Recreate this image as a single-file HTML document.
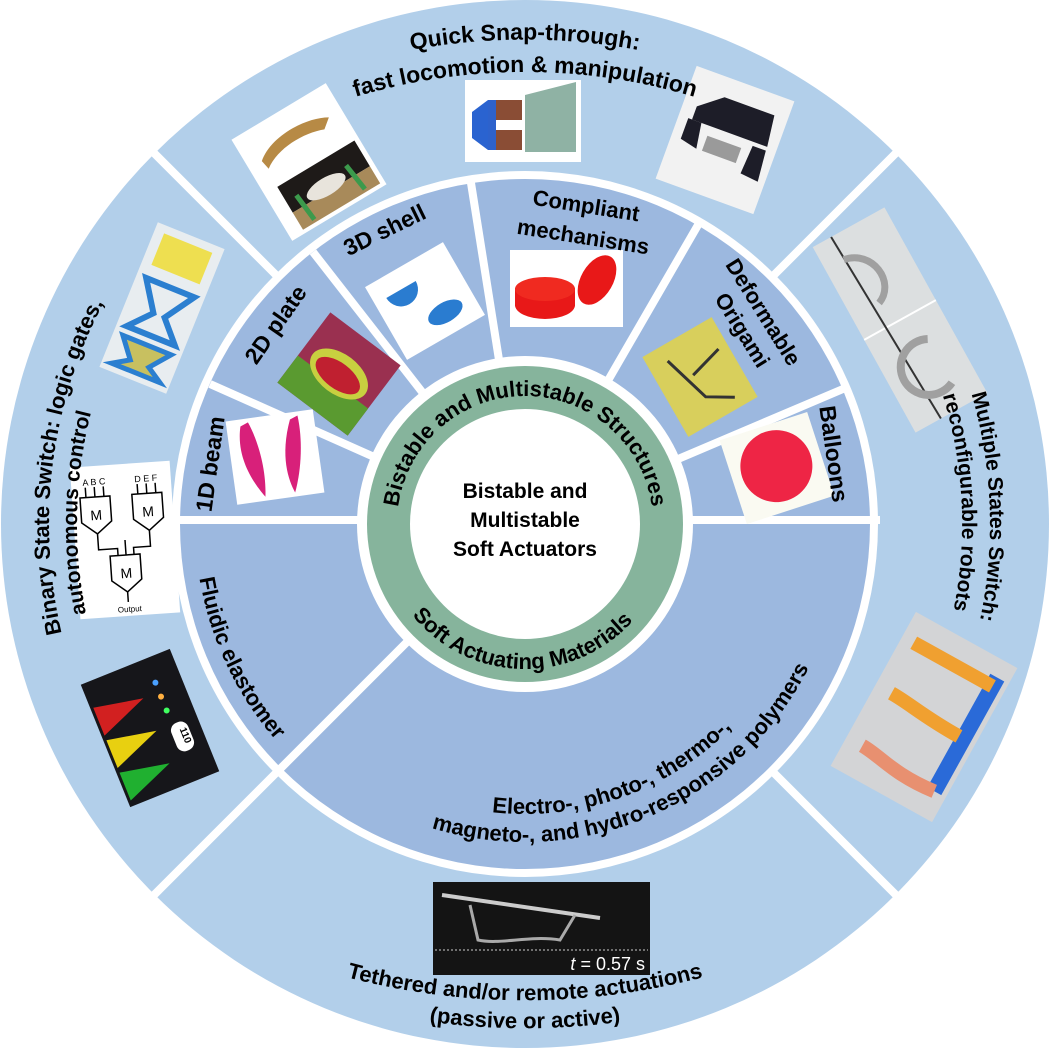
<!DOCTYPE html>
<html><head><meta charset="utf-8"><style>
html,body{margin:0;padding:0;background:#fff;}
svg{display:block;}
text{font-family:"Liberation Sans",Arial,sans-serif;font-weight:bold;fill:#000;}
</style></head><body>
<svg width="1049" height="1049" viewBox="0 0 1049 1049" xmlns="http://www.w3.org/2000/svg">
<defs>
<path id="top1" d="M225,117 A620,620 0 0 1 825,117"/>
<path id="top2" d="M225,154 A590,590 0 0 1 825,154"/>
<path id="cw476" d="M525,1000 A476,476 0 1 1 525,48 A476,476 0 1 1 525,1000"/>
<path id="cw448" d="M525,972 A448,448 0 1 1 525,76 A448,448 0 1 1 525,972"/>
<path id="cw465" d="M525,989 A465,465 0 1 1 525,59 A465,465 0 1 1 525,989"/>
<path id="cw437" d="M525,961 A437,437 0 1 1 525,87 A437,437 0 1 1 525,961"/>
<path id="cw128" d="M525,652 A128,128 0 1 1 525,396 A128,128 0 1 1 525,652"/>
<path id="bot1" d="M250,944 A700,700 0 0 0 800,944"/>
<path id="bot2" d="M250,972 A700,700 0 0 0 800,972"/>
<path id="ccw330" d="M525,194 A330,330 0 1 0 525,854 A330,330 0 1 0 525,194"/>
<path id="ccw290" d="M525,234 A290,290 0 1 0 525,814 A290,290 0 1 0 525,234"/>
<path id="ccw318" d="M525,206 A318,318 0 1 0 525,842 A318,318 0 1 0 525,206"/>
<path id="ccw145" d="M525,379 A145,145 0 1 0 525,669 A145,145 0 1 0 525,379"/>
</defs>

<circle cx="525" cy="524" r="524" fill="#b2cfea"/>
<g stroke="#fff" stroke-width="8">
<line x1="525" y1="524" x2="150" y2="149"/>
<line x1="525" y1="524" x2="900" y2="149"/>
<line x1="525" y1="524" x2="900" y2="899"/>
<line x1="525" y1="524" x2="150" y2="899"/>
</g>
<circle cx="525" cy="524" r="353" fill="#fff"/>
<circle cx="525" cy="524" r="345" fill="#9cb8df"/>
<g stroke="#fff" stroke-width="8">
<line x1="525" y1="524" x2="280" y2="769"/>
<line x1="170" y1="520" x2="880" y2="520"/>
<line x1="525" y1="524" x2="843" y2="389"/>
<line x1="525" y1="524" x2="698" y2="225"/>
<line x1="525" y1="524" x2="471" y2="183"/>
<line x1="525" y1="524" x2="313" y2="252"/>
<line x1="525" y1="524" x2="210" y2="384"/>
</g>
<circle cx="525" cy="524" r="168" fill="#fff"/>
<circle cx="525" cy="524" r="158" fill="#86b49c"/>
<circle cx="525" cy="524" r="115" fill="#fff"/>

<text x="525" y="498" font-size="21" text-anchor="middle">Bistable and</text>
<text x="525" y="527" font-size="21" text-anchor="middle">Multistable</text>
<text x="525" y="556" font-size="21" text-anchor="middle">Soft Actuators</text>

<text font-size="22"><textPath href="#cw128" startOffset="50%" text-anchor="middle">Bistable and Multistable Structures</textPath></text>
<text font-size="22"><textPath href="#ccw145" startOffset="49.6%" text-anchor="middle">Soft Actuating Materials</textPath></text>

<g transform="translate(309,162) rotate(-31)">
<rect x="-55" y="-59" width="110" height="118" fill="#fff"/>
<path d="M-40,-25 C-20,-42 20,-40 40,-28 L30,-20 C10,-28 -20,-28 -38,-15 Z" fill="#b78a45"/>
<rect x="-40" y="5" width="90" height="30" fill="#1e1a18"/>
<rect x="-40" y="35" width="90" height="20" fill="#a88a5a"/>
<path d="M-28,22 L-25,52 M30,22 L34,52" stroke="#3c9a4c" stroke-width="5"/>
<ellipse cx="2" cy="30" rx="22" ry="9" fill="#e8e4dc"/>
</g>
<g>
<rect x="465" y="80" width="116" height="82" fill="#fff"/>
<path d="M525,95 L576,82 L576,152 L525,152 Z" fill="#8fb2a4"/>
<path d="M472,112 L488,100 L488,150 L472,138 Z" fill="#2a63d0"/>
<rect x="488" y="100" width="8" height="50" fill="#2d62cc"/>
<rect x="496" y="100" width="26" height="20" fill="#8a4d35"/>
<rect x="496" y="130" width="26" height="20" fill="#8a4d35"/>
</g>
<g transform="translate(725,140) rotate(20)">
<rect x="-52" y="-60" width="104" height="120" fill="#f2f2f2"/>
<path d="M-38,-22 L-15,-40 L38,-40 L42,-8 L-38,-8 Z" fill="#1d1d28"/>
<path d="M-42,-8 L-28,-8 L-24,18 L-42,14 Z" fill="#1d1d28"/>
<path d="M28,-4 L42,-4 L45,28 L26,26 Z" fill="#1d1d28"/>
<rect x="-18" y="2" width="36" height="16" fill="#9a9a9a"/>
</g>
<g transform="translate(162,308) rotate(22)">
<rect x="-36" y="-78" width="72" height="156" fill="#e8edf0"/>
<rect x="-26" y="-70" width="52" height="34" fill="#eedf50"/>
<path d="M-26,-22 L26,-22 L6,8 L26,30 L-26,30 L-6,8 Z" fill="none" stroke="#2b7fd0" stroke-width="6"/>
<path d="M-26,40 L26,40 L10,60 L26,70 L-26,70 L-10,60 Z" fill="#c8c060" stroke="#2b7fd0" stroke-width="5"/>
</g>
<g transform="translate(125,540) rotate(-4)">
<rect x="-50" y="-76" width="100" height="152" fill="#fff"/>
<g fill="none" stroke="#000" stroke-width="1.5">
<path d="M-42,-45 L-12,-45 L-12,-20 L-27,-8 L-42,-20 Z"/>
<path d="M10,-45 L40,-45 L40,-20 L25,-8 L10,-20 Z"/>
<path d="M-16,15 L14,15 L14,40 L-1,52 L-16,40 Z"/>
<path d="M-27,-8 L-27,8 L-8,8 L-8,15 M25,-8 L25,8 L8,8 L8,15 M-1,52 L-1,62 M0,0 L0,15"/>
<path d="M-36,-45 L-36,-55 M-27,-45 L-27,-55 M-18,-45 L-18,-55 M16,-45 L16,-55 M25,-45 L25,-55 M34,-45 L34,-55"/>
</g>
<text x="-27" y="-22" font-size="14" text-anchor="middle" style="font-weight:normal">M</text>
<text x="25" y="-22" font-size="14" text-anchor="middle" style="font-weight:normal">M</text>
<text x="-1" y="38" font-size="14" text-anchor="middle" style="font-weight:normal">M</text>
<text x="-27" y="-57" font-size="9" text-anchor="middle" style="font-weight:normal">A B C</text>
<text x="25" y="-57" font-size="9" text-anchor="middle" style="font-weight:normal">D E F</text>
<text x="0" y="72" font-size="8" text-anchor="middle" style="font-weight:normal">Output</text>
</g>
<g transform="translate(150,728) rotate(-22)">
<rect x="-48" y="-66" width="96" height="132" fill="#16161a"/>
<path d="M-45,-40 L5,-30 L-45,-10 Z" fill="#d22020"/>
<path d="M-45,-5 L5,5 L-45,25 Z" fill="#e8d010"/>
<path d="M-45,30 L5,40 L-45,60 Z" fill="#20b030"/>
<circle cx="22" cy="-40" r="3" fill="#4aa0ff"/>
<circle cx="22" cy="-25" r="3" fill="#ffb040"/>
<circle cx="22" cy="-10" r="3" fill="#40ff60"/>
<rect x="18" y="5" width="18" height="30" rx="8" fill="#fff"/>
<text transform="translate(27,20) rotate(90)" font-size="10" text-anchor="middle">110</text>
</g>
<g transform="translate(900,320) rotate(-29)">
<rect x="-41" y="-106" width="82" height="212" fill="#dcdfe0"/>
<line x1="-41" y1="0" x2="41" y2="0" stroke="#fff" stroke-width="2"/>
<line x1="-20" y1="-106" x2="-12" y2="106" stroke="#333" stroke-width="2"/>
<path d="M-20,-80 C10,-75 15,-35 -10,-25" fill="none" stroke="#a0a0a0" stroke-width="7"/>
<path d="M15,30 A28,28 0 1 0 15,80" fill="none" stroke="#a0a0a0" stroke-width="8"/>
</g>
<g transform="translate(924,717) rotate(29)">
<rect x="-58" y="-88" width="116" height="176" fill="#d3d4d6"/>
<path d="M45,-70 L45,60" stroke="#2a6ad8" stroke-width="16"/>
<path d="M45,-60 C0,-60 -20,-60 -45,-60" stroke="#f0a030" stroke-width="14" fill="none"/>
<path d="M40,0 C0,0 -20,-5 -40,-5" stroke="#f0a030" stroke-width="14" fill="none"/>
<path d="M45,60 C0,65 -20,55 -40,55" stroke="#e89070" stroke-width="14" fill="none"/>
</g>
<rect x="433" y="882" width="217" height="93" fill="#141414"/>
<path d="M442,895 L600,918" stroke="#ccc" stroke-width="4"/>
<path d="M470,905 L478,940 C500,945 530,935 560,940 L575,915" stroke="#aaa" stroke-width="3" fill="none"/>
<line x1="435" y1="950" x2="648" y2="950" stroke="#ccc" stroke-width="1" stroke-dasharray="2,2"/>
<text x="645" y="970" font-size="18" text-anchor="end" style="font-weight:normal;fill:#fff"><tspan font-style="italic">t</tspan> = 0.57 s</text>
<g transform="translate(275,457) rotate(-8)">
<rect x="-44" y="-42" width="88" height="84" fill="#fff"/>
<path d="M-30,-35 C-40,0 -20,30 -15,38 C-10,10 -15,-20 -22,-38 Z" fill="#d8207a"/>
<path d="M20,-35 C5,0 10,25 15,38 C25,15 30,-15 28,-38 Z" fill="#d8207a"/>
</g>
<g transform="translate(339,374) rotate(37)">
<rect x="-44" y="-44" width="88" height="88" fill="#9a3050"/>
<rect x="-44" y="10" width="88" height="34" fill="#5a9a30"/>
<ellipse cx="0" cy="0" rx="33" ry="20" fill="#c8d040"/>
<ellipse cx="0" cy="2" rx="26" ry="13" fill="#c02030"/>
</g>
<g transform="translate(425,301) rotate(-30)">
<rect x="-45" y="-42" width="90" height="84" fill="#fff"/>
<path d="M-32,-22 A17,17 0 0 0 2,-22 Z" fill="#2a7cd0"/>
<ellipse cx="12" cy="20" rx="19" ry="10" fill="#2a7cd0"/>
</g>
<rect x="510" y="250" width="113" height="77" fill="#fff"/>
<ellipse cx="545" cy="305" rx="30" ry="14" fill="#e81818"/>
<rect x="515" y="288" width="60" height="18" fill="#e81818"/>
<ellipse cx="545" cy="289" rx="30" ry="12" fill="#f02a20"/>
<ellipse cx="597" cy="280" rx="16" ry="27" fill="#e81818" transform="rotate(30 597 280)"/>
<g transform="translate(700,377) rotate(-30)">
<rect x="-40" y="-46" width="80" height="92" fill="#d8cf5c"/>
<path d="M-20,-30 L-5,20 L20,35 M-5,-5 L30,-15" stroke="#333" stroke-width="3" fill="none"/>
</g>
<g transform="translate(777,468) rotate(-18)">
<rect x="-46" y="-44" width="92" height="88" fill="#fafaf2"/>
<circle cx="0" cy="-2" r="36" fill="#ee2545"/>
</g>

<text font-size="23"><textPath href="#top1" startOffset="50%" text-anchor="middle">Quick Snap-through:</textPath></text>
<text font-size="23"><textPath href="#top2" startOffset="50%" text-anchor="middle">fast locomotion &amp; manipulation</textPath></text>
<text font-size="22"><textPath href="#cw476" startOffset="27%" text-anchor="middle">Binary  State Switch: logic gates,</textPath></text>
<text font-size="21"><textPath href="#cw448" startOffset="25.4%" text-anchor="middle">autonomous control</textPath></text>
<text font-size="21"><textPath href="#cw465" startOffset="74.4%" text-anchor="middle">Multiple States Switch:</textPath></text>
<text font-size="21"><textPath href="#cw437" startOffset="74.2%" text-anchor="middle">reconfigurable robots</textPath></text>
<text font-size="22"><textPath href="#bot1" startOffset="50%" text-anchor="middle">Tethered and/or remote actuations</textPath></text>
<text font-size="22"><textPath href="#bot2" startOffset="50%" text-anchor="middle">(passive or active)</textPath></text>

<text font-size="22"><textPath href="#ccw330" startOffset="32%" text-anchor="middle">Fluidic elastomer</textPath></text>
<text font-size="22"><textPath href="#ccw290" startOffset="55.4%" text-anchor="middle">Electro-, photo-, thermo-,</textPath></text>
<text font-size="22"><textPath href="#ccw318" startOffset="56.4%" text-anchor="middle">magneto-, and hydro-responsive polymers</textPath></text>

<text font-size="23" text-anchor="middle" transform="translate(218,465) rotate(-82)">1D beam</text>
<text font-size="23" text-anchor="middle" transform="translate(282,329) rotate(-55)">2D plate</text>
<text font-size="23" text-anchor="middle" transform="translate(388,237) rotate(-26)">3D shell</text>
<text font-size="22" text-anchor="middle" transform="translate(585,213) rotate(9)">Compliant</text>
<text font-size="22" text-anchor="middle" transform="translate(582,244) rotate(9)">mechanisms</text>
<text font-size="22" text-anchor="middle" transform="translate(757,316) rotate(58)">Deformable</text>
<text font-size="22" text-anchor="middle" transform="translate(736,334) rotate(58)">Origami</text>
<text font-size="23" text-anchor="middle" transform="translate(826,455) rotate(82)">Balloons</text>
</svg>
</body></html>
